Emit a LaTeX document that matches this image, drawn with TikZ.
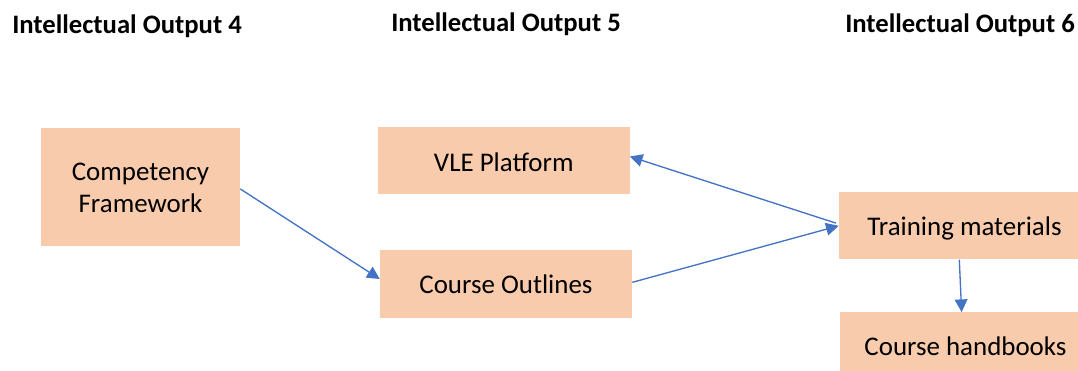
\documentclass[tikz,border=0pt]{standalone}
\usepackage{fontspec}
\setmainfont{Carlito}
\usetikzlibrary{arrows.meta}
\definecolor{boxfill}{HTML}{F8CBAD}
\definecolor{arrowblue}{HTML}{4472C4}
\begin{document}
\begin{tikzpicture}[x=0.75pt,y=-0.75pt,
  box/.style={fill=boxfill,draw=none,inner sep=0pt,align=center,
    font=\fontsize{20.2}{24}\selectfont},
  oneline/.style={box,text height=14pt,text depth=0pt},
  title/.style={anchor=base west,inner sep=0pt,font=\fontsize{20}{24}\selectfont\bfseries},
  conn/.style={draw=arrowblue,line width=1pt,-{Triangle[length=9.5pt,width=9.5pt]}}]
\useasboundingbox (0,0) rectangle (1078,371);
\begin{scope}
\clip (0,0) rectangle (1078,371);
\node[title] (t4) at (12,33) {Intellectual Output 4};
\node[title] (t5) at (391,31.7) {Intellectual Output 5};
\node[title] (t6) at (845,32.5) {Intellectual Output 6};
\node[box,minimum width=149.25pt,minimum height=88.1pt] (cf) at (140.5,186.8) {\rule{0pt}{14.8pt}Competency\\Framework};
\node[oneline,text height=17pt,minimum width=188.6pt,minimum height=50.5pt] (vle) at (503.8,160.5) {VLE Platform};
\node[oneline,minimum width=189pt,minimum height=50.8pt] (co) at (506,283.8) {Course Outlines};
\node[oneline,minimum width=188.3pt,minimum height=50.5pt] (tm) at (964.5,225.8) {Training materials};
\node[oneline,minimum width=188.3pt,minimum height=50.5pt] (hb) at (965.5,346) {Course handbooks};
\draw[conn] ([yshift=-1.6pt]cf.east) -- ([yshift=3.6pt]co.west);
\draw[conn] ([yshift=1.1pt]co.east) -- (tm.west);
\draw[conn] ([xshift=-2pt,yshift=2pt]tm.west) -- ([yshift=3pt]vle.east);
\draw[conn] ([xshift=-3.9pt]tm.south) -- ([xshift=-2.9pt]hb.north);
\end{scope}
\end{tikzpicture}
\end{document}
